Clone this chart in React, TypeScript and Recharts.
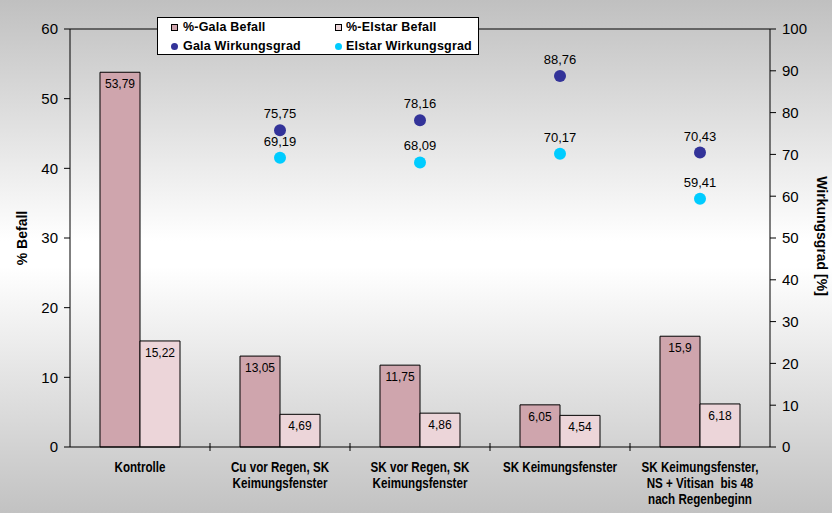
import React from 'react';
import {
  ComposedChart, Bar, Line, XAxis, YAxis, Legend, LabelList, ReferenceLine, Label,
} from 'recharts';

const categories = [
  'Kontrolle',
  'Cu vor Regen, SK Keimungsfenster',
  'SK vor Regen, SK Keimungsfenster',
  'SK Keimungsfenster',
  'SK Keimungsfenster, NS + Vitisan  bis 48 nach Regenbeginn',
];
const categoryLines = [
  ['Kontrolle'],
  ['Cu vor Regen, SK', 'Keimungsfenster'],
  ['SK vor Regen, SK', 'Keimungsfenster'],
  ['SK Keimungsfenster'],
  ['SK Keimungsfenster,', 'NS + Vitisan  bis 48', 'nach Regenbeginn'],
];
const galaBefall = [53.79, 13.05, 11.75, 6.05, 15.9];
const elstarBefall = [15.22, 4.69, 4.86, 4.54, 6.18];
const galaWirkung: (number | null)[] = [null, 75.75, 78.16, 88.76, 70.43];
const elstarWirkung: (number | null)[] = [null, 69.19, 68.09, 70.17, 59.41];
const leftTicks = [0, 10, 20, 30, 40, 50, 60];
const rightTicks = [0, 10, 20, 30, 40, 50, 60, 70, 80, 90, 100];

const seriesNames = {
  galaBefall: '%-Gala Befall',
  elstarBefall: '%-Elstar Befall',
  galaWirkung: 'Gala Wirkungsgrad',
  elstarWirkung: 'Elstar Wirkungsgrad',
};

const COLORS = {
  galaBefall: '#cfa5ad',
  elstarBefall: '#ecd5d9',
  galaWirkung: '#333399',
  elstarWirkung: '#00ccff',
};

const data = categories.map((c, i) => ({
  name: c,
  galaBefall: galaBefall[i],
  elstarBefall: elstarBefall[i],
  galaWirkung: galaWirkung[i],
  elstarWirkung: elstarWirkung[i],
}));

const FONT = '"Liberation Sans", Arial, sans-serif';
const fmt = (v: any) => (v == null ? '' : String(v).replace('.', ','));

const XTick = (props: any) => {
  const { x, y, index } = props;
  const lines = categoryLines[index] || [];
  return (
    <g>
      {index < categories.length - 1 && (
        <line x1={x + 70} x2={x + 70} y1={y - 4} y2={y + 4} stroke="#000" strokeWidth={1} />
      )}
      <g transform={`translate(${x},0) scale(0.83,1)`}>
        {lines.map((l: string, k: number) => (
          <text
            key={k}
            x={0}
            y={y + 25 + k * 16}
            textAnchor="middle"
            fontFamily={FONT}
            fontWeight="bold"
            fontSize={14}
            fill="#000"
            style={{ whiteSpace: 'pre' }}
          >
            {l}
          </text>
        ))}
      </g>
    </g>
  );
};

const PointLabel = (props: any) => {
  const { x, y, value } = props;
  if (value == null || x == null || y == null) return null;
  return (
    <text x={x} y={y - 12} textAnchor="middle" fontFamily={FONT} fontSize={13} fill="#000">
      {fmt(value)}
    </text>
  );
};

const BarLabel = (props: any) => {
  const { x, y, width, value } = props;
  if (value == null) return null;
  return (
    <text x={x + width / 2} y={y + 16} textAnchor="middle" fontFamily={FONT} fontSize={12} fill="#000">
      {fmt(value)}
    </text>
  );
};

const LegendBox = () => {
  const itemText: React.CSSProperties = {
    fontFamily: FONT, fontWeight: 'bold', fontSize: 12.5, letterSpacing: 0.2, color: '#000', whiteSpace: 'nowrap', lineHeight: '15px',
  };
  const square = (c: string): React.CSSProperties => ({
    position: 'absolute', width: 5, height: 5, background: c, border: '1px solid #000',
  });
  const dot = (c: string): React.CSSProperties => ({
    position: 'absolute', width: 7, height: 7, borderRadius: '50%', background: c,
  });
  return (
    <div style={{ position: 'relative', width: 322, height: 38, background: '#fff', border: '1px solid #000', boxSizing: 'border-box' }}>
      <div style={{ ...square(COLORS.galaBefall), left: 13, top: 6 }} />
      <div style={{ ...itemText, position: 'absolute', left: 25, top: 2 }}>{seriesNames.galaBefall}</div>
      <div style={{ ...square(COLORS.elstarBefall), left: 177, top: 6 }} />
      <div style={{ ...itemText, position: 'absolute', left: 188, top: 2 }}>{seriesNames.elstarBefall}</div>
      <div style={{ ...dot(COLORS.galaWirkung), left: 13, top: 25 }} />
      <div style={{ ...itemText, position: 'absolute', left: 25, top: 21 }}>{seriesNames.galaWirkung}</div>
      <div style={{ ...dot(COLORS.elstarWirkung), left: 177, top: 25 }} />
      <div style={{ ...itemText, position: 'absolute', left: 188, top: 21 }}>{seriesNames.elstarWirkung}</div>
    </div>
  );
};

export default function App() {
  return (
    <div
      style={{
        position: 'absolute', left: 0, top: 0, width: 832, height: 513,
        background: 'linear-gradient(to bottom, #c0c0c0 0%, #ffffff 47%, #ffffff 52%, #c2c2c2 100%)',
      }}
    >
      <ComposedChart
        width={832}
        height={513}
        data={data}
        margin={{ top: 29, right: 12, bottom: 10, left: 20 }}
        barCategoryGap={30}
        barGap={0}
      >
        <XAxis
          dataKey="name"
          height={56}
          tickLine={false}
          tickSize={0}
          tickMargin={0}
          axisLine={{ stroke: '#000' }}
          tick={<XTick />}
          interval={0}
        />
        <YAxis
          yAxisId="left"
          orientation="left"
          width={50}
          domain={[0, 60]}
          ticks={leftTicks}
          tick={{ fontFamily: FONT, fontSize: 15, fill: '#000' }}
          tickSize={6}
          tickMargin={6}
          axisLine={{ stroke: '#000' }}
          tickLine={{ stroke: '#000' }}
        >
          <Label
            content={() => (
              <text
                x={22}
                y={238}
                transform="rotate(-90 22 238)"
                textAnchor="middle"
                dominantBaseline="central"
                fontFamily={FONT}
                fontWeight="bold"
                fontSize={14}
                fill="#000"
              >
                % Befall
              </text>
            )}
          />
        </YAxis>
        <YAxis
          yAxisId="right"
          orientation="right"
          width={50}
          domain={[0, 100]}
          ticks={rightTicks}
          tick={{ fontFamily: FONT, fontSize: 15, fill: '#000' }}
          tickSize={6}
          tickMargin={6}
          axisLine={{ stroke: '#000' }}
          tickLine={{ stroke: '#000' }}
        >
          <Label
            content={() => (
              <text
                x={822}
                y={236}
                transform="rotate(90 822 236)"
                textAnchor="middle"
                dominantBaseline="central"
                fontFamily={FONT}
                fontWeight="bold"
                fontSize={14}
                fill="#000"
              >
                Wirkungsgrad [%]
              </text>
            )}
          />
        </YAxis>
        <ReferenceLine yAxisId="left" y={60} stroke="#000" strokeWidth={1} />
        <Legend
          verticalAlign="middle"
          align="center"
          content={() => <LegendBox />}
          wrapperStyle={{ position: 'absolute', left: 157, top: 17, width: 322, height: 38, margin: 0, padding: 0 }}
        />
        <Bar yAxisId="left" dataKey="galaBefall" name={seriesNames.galaBefall} fill={COLORS.galaBefall} stroke="#000" strokeWidth={1} isAnimationActive={false}>
          <LabelList dataKey="galaBefall" content={<BarLabel />} />
        </Bar>
        <Bar yAxisId="left" dataKey="elstarBefall" name={seriesNames.elstarBefall} fill={COLORS.elstarBefall} stroke="#000" strokeWidth={1} isAnimationActive={false}>
          <LabelList dataKey="elstarBefall" content={<BarLabel />} />
        </Bar>
        <Line
          yAxisId="right"
          dataKey="galaWirkung"
          name={seriesNames.galaWirkung}
          stroke="none"
          strokeWidth={0}
          dot={{ r: 6, fill: COLORS.galaWirkung, stroke: 'none' }}
          activeDot={false}
          isAnimationActive={false}
        >
          <LabelList dataKey="galaWirkung" content={<PointLabel />} />
        </Line>
        <Line
          yAxisId="right"
          dataKey="elstarWirkung"
          name={seriesNames.elstarWirkung}
          stroke="none"
          strokeWidth={0}
          dot={{ r: 6, fill: COLORS.elstarWirkung, stroke: 'none' }}
          activeDot={false}
          isAnimationActive={false}
        >
          <LabelList dataKey="elstarWirkung" content={<PointLabel />} />
        </Line>
      </ComposedChart>
    </div>
  );
}
